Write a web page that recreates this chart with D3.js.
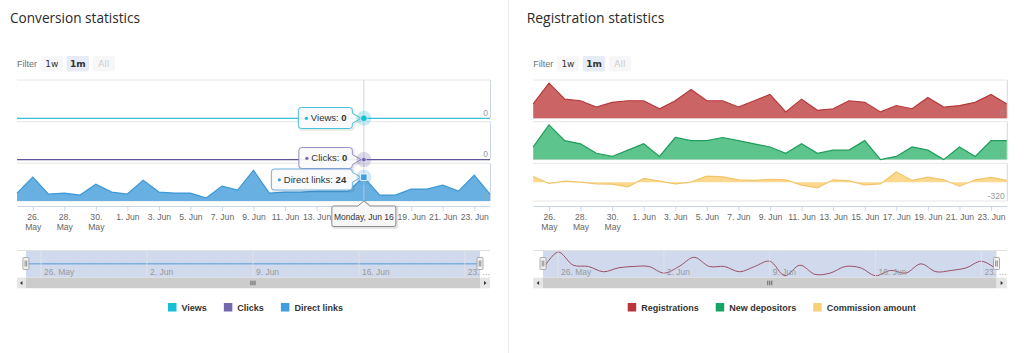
<!DOCTYPE html>
<html><head><meta charset="utf-8">
<script src="https://cdn.jsdelivr.net/npm/d3@7"></script>
<style>body{margin:0;background:#fff;}svg{display:block}</style>
</head><body><svg id="c" width="1024" height="353"></svg>
<script>
// ---------- DATA ----------
const dateStrings = ["2025-05-25","2025-05-26","2025-05-27","2025-05-28","2025-05-29","2025-05-30","2025-05-31",
  "2025-06-01","2025-06-02","2025-06-03","2025-06-04","2025-06-05","2025-06-06","2025-06-07","2025-06-08",
  "2025-06-09","2025-06-10","2025-06-11","2025-06-12","2025-06-13","2025-06-14","2025-06-15","2025-06-16",
  "2025-06-17","2025-06-18","2025-06-19","2025-06-20","2025-06-21","2025-06-22","2025-06-23","2025-06-24"];
const views        = [0,0,0,0,0,0,0,0,0,0,0,0,0,0,0,0,0,0,0,0,0,0,0,0,0,0,0,0,0,0,0];
const clicks       = [0,0,0,0,0,0,0,0,0,0,0,0,0,0,0,0,0,0,0,0,0,0,0,0,0,0,0,0,0,0,0];
const directLinks  = [8,24,7,8,6,17,9,7,21,9,8,8,3,15,11,31,8,9,9,10,10,10,24,6,6,12,12,16,10,26,7];
const registrations= [9,22,12,11,7,10,11,11,6,11,18,11,11,7,11,15,4,12,5,6,11,10,4,8,6,13,7,8,10,15,9];
const depositors   = [4,11,6,5,2,1,3,5,1,7,6,6,7,6,5,4,2,5,2,3,3,6,0,1,4,3,0,4,1,6,6];
const commission   = [97,-23,17,0,-29,-34,-80,63,17,-29,0,103,91,40,29,46,40,-51,-97,40,23,-46,-29,171,29,86,40,-69,40,80,29];

const axisTickDates  = ["2025-05-26","2025-05-28","2025-05-30","2025-06-01","2025-06-03","2025-06-05","2025-06-07",
  "2025-06-09","2025-06-11","2025-06-13","2025-06-15","2025-06-17","2025-06-19","2025-06-21","2025-06-23"];
const axisTickLabels = ["26.|May","28.|May","30.|May","1. Jun","3. Jun","5. Jun","7. Jun","9. Jun","11. Jun",
  "13. Jun","15. Jun","17. Jun","19. Jun","21. Jun","23. Jun"];
const navTickDates  = ["2025-05-26","2025-06-02","2025-06-09","2025-06-16","2025-06-23"];
const navTickLabels = ["26. May","2. Jun","9. Jun","16. Jun","23. \u2026"];

const leftSeries  = ["Views","Clicks","Direct links"];
const rightSeries = ["Registrations","New depositors","Commission amount"];
const filterButtons = ["1w","1m","All"];
const hoverIndex = 22;
const hoverLabel = "Monday, Jun 16";

// ---------- SETUP ----------
const parse = d3.utcParse("%Y-%m-%d");
const dates = dateStrings.map(parse);
const svg = d3.select("#c");
const FONT = "'Liberation Sans', Arial, sans-serif";

const panes = [{top:80, bottom:118.3},{top:121.7, bottom:159.6},{top:163.3, bottom:201}];

// divider
svg.append("line").attr("x1",508.5).attr("x2",508.5).attr("y1",0).attr("y2",353).attr("stroke","#ececec");

function drawPanel(cfg){
  const g = svg.append("g");
  // title
  g.append("text").attr("x",cfg.titleX).attr("y",23).attr("font-family","'Open Sans', sans-serif")
    .attr("font-size",14.5).attr("fill","#2a2a2a").attr("textLength",cfg.titleW).attr("lengthAdjust","spacingAndGlyphs")
    .text(cfg.title);
  // filter
  g.append("text").attr("x",cfg.x0).attr("y",66.5).attr("font-family",FONT).attr("font-size",9)
    .attr("fill","#707070").text("Filter");
  filterButtons.forEach((b,i)=>{
    const bx = cfg.x0 + 23.5 + i*26;
    g.append("rect").attr("x",bx).attr("y",56).attr("width",22.5).attr("height",15.5).attr("rx",2)
      .attr("fill", i===1 ? "#e6ebf5" : "#f7f7f7");
    g.append("text").attr("x",bx+11.25).attr("y",66.8).attr("text-anchor","middle")
      .attr("font-family","'DejaVu Sans', sans-serif").attr("font-size",9)
      .attr("font-weight", i===1 ? "bold" : "normal")
      .attr("fill", i===2 ? "#cccccc" : "#333").text(b);
  });

  const x = d3.scaleUtc().domain([dates[0], dates[dates.length-1]]).range([cfg.x0, cfg.x1]);

  // pane gridlines and right borders
  panes.forEach(p=>{
    [p.top,p.bottom].forEach(yy=> g.append("line").attr("x1",cfg.x0).attr("x2",cfg.x1)
      .attr("y1",yy).attr("y2",yy).attr("stroke","#e6e6e6"));
    g.append("line").attr("x1",cfg.x1+0.5).attr("x2",cfg.x1+0.5).attr("y1",p.top).attr("y2",p.bottom)
      .attr("stroke","#ccd6eb");
  });

  cfg.series.forEach((s,k)=>{
    const p = panes[k];
    const y = d3.scaleLinear().domain(s.domain).range([p.bottom, p.top]);
    const base = Math.max(s.domain[0], 0);
    if (s.area){
      g.append("path").datum(s.values)
        .attr("d", d3.area().x((d,i)=>x(dates[i])).y0(y(base)).y1(d=>y(d)))
        .attr("fill", s.fill);
    }
    g.append("path").datum(s.values)
      .attr("d", d3.line().x((d,i)=>x(dates[i])).y(d=>y(d)))
      .attr("fill","none").attr("stroke", s.line).attr("stroke-width",1.2);
    g.append("text").attr("x",cfg.x1-2).attr("y",p.bottom-2.5).attr("text-anchor","end")
      .attr("font-family",FONT).attr("font-size",8.5).attr("fill", s.labelColor || "#999").text(s.labelText);
  });

  // x axis
  const ax = d3.axisBottom(x).tickValues(axisTickDates.map(parse)).tickSize(5).tickSizeOuter(0)
    .tickFormat((d,i)=>axisTickLabels[i]);
  const a = g.append("g").attr("transform","translate(0,206)").call(ax)
    .attr("font-family",FONT).attr("font-size",8.6);
  a.select(".domain").attr("stroke","#ccd6eb");
  a.selectAll(".tick line").attr("stroke","#ccd6eb");
  a.selectAll(".tick text").each(function(d,i){
    const t = d3.select(this).attr("fill","#666").attr("y",14).attr("dy",null);
    const parts = axisTickLabels[i].split("|");
    t.text(null);
    parts.forEach((pt,j)=> t.append("tspan").attr("x",0).attr("dy", j===0 ? 0 : 10).text(pt));
  });

  // navigator
  const nx = d3.scaleUtc().domain(x.domain()).range([cfg.navX0, cfg.navX1]);
  const nTop = 250, nBot = 277.7;
  g.append("line").attr("x1",cfg.x0).attr("x2",cfg.x1).attr("y1",nTop+0.5).attr("y2",nTop+0.5).attr("stroke","#e0e0e0");
  const nav = cfg.nav;
  const ny = d3.scaleLinear().domain(nav.domain).range([nBot-2, nTop+2]);
  g.append("path").datum(nav.values)
    .attr("d", d3.line().curve(d3.curveCatmullRom.alpha(0.5)).x((d,i)=>nx(dates[i])).y(d=>ny(d)))
    .attr("fill","none").attr("stroke",nav.color).attr("stroke-width",1);
  g.append("rect").attr("x",cfg.navX0).attr("y",nTop+1).attr("width",cfg.navX1-cfg.navX0).attr("height",nBot-nTop-1)
    .attr("fill","rgba(102,133,194,0.3)");
  const nt = navTickDates.map(parse);
  nt.forEach((d,i)=>{
    g.append("line").attr("x1",nx(d)).attr("x2",nx(d)).attr("y1",nTop).attr("y2",nBot).attr("stroke","#e6e6e6").attr("stroke-opacity",0.7);
    g.append("text").attr("x",nx(d)+3).attr("y",275).attr("font-family",FONT).attr("font-size",8.5)
      .attr("fill","#999").text(navTickLabels[i]);
  });
  [cfg.navX0, cfg.navX1].forEach(hx=>{
    g.append("rect").attr("x",hx-3).attr("y",257.5).attr("width",6).attr("height",12).attr("rx",1)
      .attr("fill","#f2f2f2").attr("stroke","#999").attr("stroke-width",0.8);
    g.append("line").attr("x1",hx-0.8).attr("x2",hx-0.8).attr("y1",260.5).attr("y2",266.5).attr("stroke","#444").attr("stroke-width",0.6);
    g.append("line").attr("x1",hx+0.8).attr("x2",hx+0.8).attr("y1",260.5).attr("y2",266.5).attr("stroke","#444").attr("stroke-width",0.6);
  });
  // scrollbar
  g.append("rect").attr("x",cfg.x0).attr("y",nBot).attr("width",cfg.x1-cfg.x0).attr("height",10.5).attr("fill","#f2f2f2");
  g.append("rect").attr("x",cfg.navX0).attr("y",nBot).attr("width",cfg.navX1-cfg.navX0).attr("height",10.5).attr("fill","#cccccc");
  [[cfg.x0, cfg.navX0-cfg.x0, -1],[cfg.navX1, cfg.x1-cfg.navX1, 1]].forEach(([bx,bw,dir])=>{
    g.append("rect").attr("x",bx).attr("y",nBot).attr("width",bw).attr("height",10.5).attr("fill","#e6e6e6");
    const cx = bx+bw/2, cy = nBot+5.25;
    g.append("path").attr("d", dir<0 ? `M${cx+1},${cy-2}L${cx-1.5},${cy}L${cx+1},${cy+2}Z` : `M${cx-1},${cy-2}L${cx+1.5},${cy}L${cx-1},${cy+2}Z`)
      .attr("fill","#333");
  });
  const mid = (cfg.navX0+cfg.navX1)/2;
  [-2,0,2].forEach(o=> g.append("line").attr("x1",mid+o).attr("x2",mid+o).attr("y1",nBot+3).attr("y2",nBot+7.5)
    .attr("stroke","#333").attr("stroke-width",0.7));

  // legend
  let lx = cfg.legendX;
  cfg.series.forEach((s,k)=>{
    g.append("rect").attr("x",lx).attr("y",303).attr("width",8.5).attr("height",8.5).attr("fill",s.legend);
    const t = g.append("text").attr("x",lx+13.5).attr("y",310.7).attr("font-family",FONT).attr("font-size",9)
      .attr("font-weight","bold").attr("fill","#333").text(cfg.names[k]);
    lx = lx + 13.5 + t.node().getComputedTextLength() + cfg.legendGap;
  });
  return {g, x, axis:a};
}

const left = drawPanel({
  title:"Conversion statistics", titleX:10, titleW:130,
  x0:17, x1:490, navX0:25.9, navX1:480, legendX:168, legendGap:17,
  names: leftSeries,
  series:[
    {values:views, domain:[0,1], area:false, line:"#3cc0d4", legend:"#17bfd6", labelText:"0"},
    {values:clicks, domain:[0,1], area:false, line:"#5f5699", legend:"#7469ad", labelText:"0"},
    {values:directLinks, domain:[0,38], area:true, fill:"#68b0e1", line:"#3d98d8", legend:"#3f9ee0", labelText:"0", labelColor:"#8aa9c4"}
  ],
  nav:{values:views, domain:[-1,1], color:"#4ca3e0"}
});

const right = drawPanel({
  title:"Registration statistics", titleX:526.7, titleW:137.7,
  x0:533.2, x1:1006.8, navX0:543, navX1:996.5, legendX:627.7, legendGap:17,
  names: rightSeries,
  series:[
    {values:registrations, domain:[0,24], area:true, fill:"#cb6565", line:"#b5393b", legend:"#b8363a", labelText:"0", labelColor:"#a58a8a"},
    {values:depositors, domain:[0,12], area:true, fill:"#5ec48e", line:"#1e9d5b", legend:"#17a566", labelText:"0", labelColor:"#7fa790"},
    {values:commission, domain:[-320,320], area:true, fill:"#fcd98e", line:"#f2c46a", legend:"#f8d07a", labelText:"-320"}
  ],
  nav:{values:registrations, domain:[4,22], color:"#b03a3a"}
});

// ---------- HOVER STATE (left chart) ----------
(function(){
  const g = left.g, x = left.x;
  const hx = x(dates[hoverIndex]);
  g.append("line").attr("x1",hx).attr("x2",hx).attr("y1",80).attr("y2",206).attr("stroke","#cccccc").attr("stroke-width",0.8);
  const yV = d3.scaleLinear().domain([0,1]).range([panes[0].bottom, panes[0].top]);
  const yC = d3.scaleLinear().domain([0,1]).range([panes[1].bottom, panes[1].top]);
  const yD = d3.scaleLinear().domain([0,38]).range([panes[2].bottom, panes[2].top]);
  const pts = [
    {name:"Views", v:views[hoverIndex], y:yV(views[hoverIndex]), col:"#17bfd6", border:"#44c3d6", bw:54, shape:"circle"},
    {name:"Clicks", v:clicks[hoverIndex], y:yC(clicks[hoverIndex]), col:"#7469ad", border:"#9790c2", bw:53.5, shape:"circle"},
    {name:"Direct links", v:directLinks[hoverIndex], y:yD(directLinks[hoverIndex]), col:"#3f9ee0", border:"#6fb3e3", bw:81, shape:"square"}
  ];
  function calloutRight(bx,by,w,h,r,tipX,tipY){
    const cy = Math.min(Math.max(tipY, by+r+5), by+h-r-5);
    return `M${bx+r},${by}H${bx+w-r}Q${bx+w},${by} ${bx+w},${by+r}V${cy-5}L${tipX},${tipY}L${bx+w},${cy+5}V${by+h-r}Q${bx+w},${by+h} ${bx+w-r},${by+h}H${bx+r}Q${bx},${by+h} ${bx},${by+h-r}V${by+r}Q${bx},${by} ${bx+r},${by}Z`;
  }
  const boxTops = [107.5, 147.5, 169];
  pts.forEach((p,k)=>{
    const bx = hx - 11.5 - p.bw, by = boxTops[k], h = 21;
    const d = calloutRight(bx,by,p.bw,h,3,hx-3,p.y);
    g.append("path").attr("d",d).attr("transform","translate(1,1)").attr("fill","none").attr("stroke","rgba(0,0,0,0.08)").attr("stroke-width",3);
    g.append("path").attr("d",d).attr("fill","rgba(250,250,250,0.92)").attr("stroke",p.border).attr("stroke-width",1);
    g.append("circle").attr("cx",bx+8).attr("cy",by+h/2+0.3).attr("r",1.6).attr("fill",p.col);
    const t = g.append("text").attr("x",bx+12.5).attr("y",by+h/2+3.4).attr("font-family",FONT).attr("font-size",9.5).attr("fill","#333");
    t.append("tspan").text(p.name+": ");
    t.append("tspan").attr("font-weight","bold").text(p.v);
  });
  pts.forEach(p=>{
    g.append("circle").attr("cx",hx).attr("cy",p.y).attr("r",7.5).attr("fill",p.col).attr("fill-opacity",0.25);
    if (p.shape==="square") g.append("rect").attr("x",hx-3.2).attr("y",p.y-3.2).attr("width",6.4).attr("height",6.4).attr("fill",p.col).attr("stroke","#fff").attr("stroke-width",0.8);
    else g.append("circle").attr("cx",hx).attr("cy",p.y).attr("r",p.name==="Views"?3.3:2.4).attr("fill",p.col).attr("stroke","#fff").attr("stroke-width",0.6);
  });
  // date label box
  const bw = 64, bx = hx-32, by = 206, h = 20.5, r = 2;
  // tick labels hidden underneath the date label in the reference
  left.axis.selectAll(".tick").each(function(d){
    const tx = x(d);
    if (tx > bx - 2 && tx < bx + bw + 2) d3.select(this).select("text").remove();
  });
  const d = `M${bx+r},${by}H${hx-6}L${hx},${by-5}L${hx+6},${by}H${bx+bw-r}Q${bx+bw},${by} ${bx+bw},${by+r}V${by+h-r}Q${bx+bw},${by+h} ${bx+bw-r},${by+h}H${bx+r}Q${bx},${by+h} ${bx},${by+h-r}V${by+r}Q${bx},${by} ${bx+r},${by}Z`;
  g.append("path").attr("d",d).attr("transform","translate(1,1)").attr("fill","none").attr("stroke","rgba(0,0,0,0.1)").attr("stroke-width",3);
  g.append("path").attr("d",d).attr("fill","#f7f7f7").attr("stroke","#8a8a8a").attr("stroke-width",1);
  g.append("text").attr("x",hx).attr("y",by+13.5).attr("text-anchor","middle").attr("font-family",FONT)
    .attr("font-size",8.5).attr("fill","#333").text(hoverLabel);
})();
</script></body></html>
